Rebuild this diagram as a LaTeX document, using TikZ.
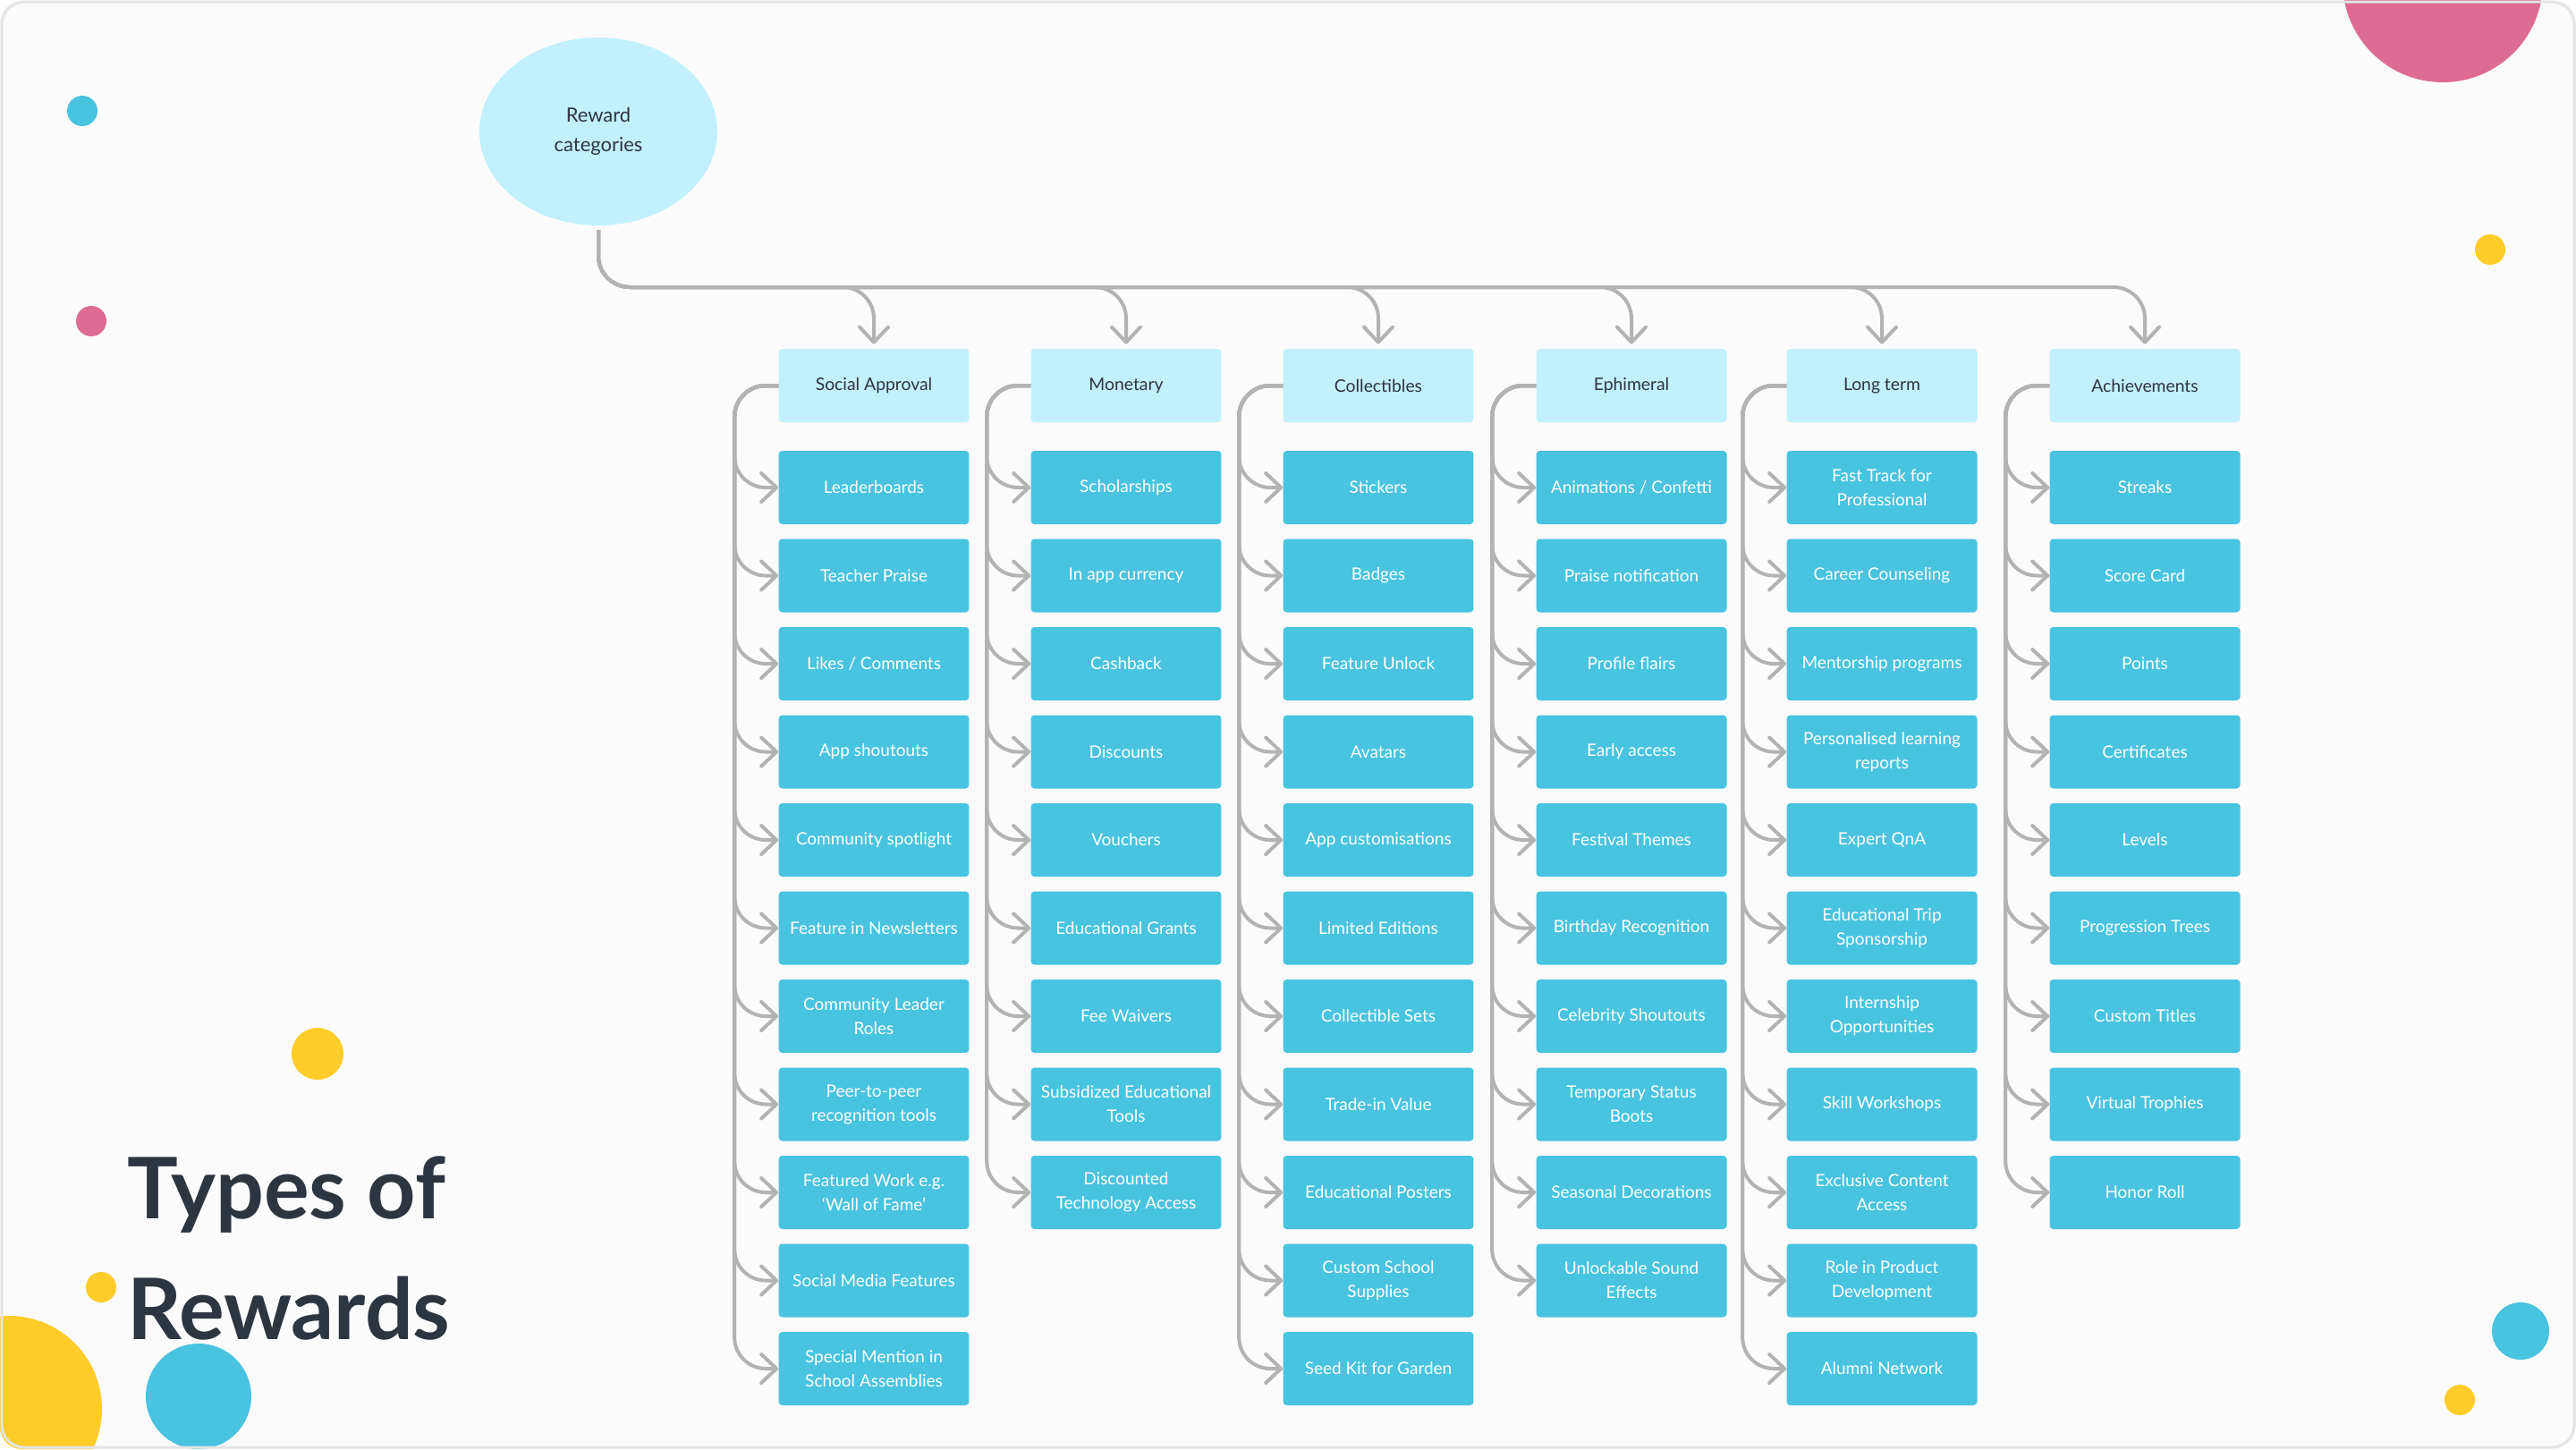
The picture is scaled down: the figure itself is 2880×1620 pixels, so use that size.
\documentclass[tikz,border=0pt]{standalone}
\usepackage{fontspec}
\setmainfont{Lato}
\usepackage{tikz}
\usetikzlibrary{arrows.meta,positioning,shapes.geometric}
\definecolor{rwpaper}{HTML}{FBFBFB}
\definecolor{rwedge}{HTML}{E4E4E4}
\definecolor{rwpale}{HTML}{C2F0FC}
\definecolor{rwcyan}{HTML}{48C3E0}
\definecolor{rwgray}{HTML}{B3B3B3}
\definecolor{rwink}{HTML}{2D3540}
\definecolor{rwpink}{HTML}{DD6B93}
\definecolor{rwyellow}{HTML}{FFCC29}

\begin{document}
\begin{tikzpicture}[
  x=0.02cm,y=-0.02cm,
  every node/.style={align=center,inner sep=0pt},
  cat/.style={ellipse,fill=rwpale,minimum width=5.32cm,minimum height=4.2cm,text=rwink,font=\fontsize{12.5}{18.8}\selectfont},
  head/.style={fill=rwpale,rounded corners=0.08cm,minimum width=4.26cm,minimum height=1.64cm,text=rwink,font=\fontsize{11}{15}\selectfont},
  item/.style={fill=rwcyan,rounded corners=0.08cm,minimum width=4.26cm,minimum height=1.64cm,text=white,font=\fontsize{10.8}{15.3}\selectfont},
  branch/.style={-{Straight Barb[length=0.34cm,width=0.64cm,round]},line width=0.08cm,draw=rwgray,rounded corners=0.7cm},
  heading/.style={anchor=base west,text=rwink,font=\fontsize{54}{62}\selectfont\bfseries},
  dot/.style={fill=#1}
]
\useasboundingbox (0,0) rectangle (2880,1620);
% page and decoration
\fill[rwpaper,rounded corners=0.5cm] (0,0) rectangle (2880,1620);
\begin{scope}
\clip[rounded corners=0.5cm] (0,0) rectangle (2880,1620);
\fill[dot=rwcyan] (92,124) circle (0.34cm);
\fill[dot=rwpink] (102,359) circle (0.34cm);
\fill[dot=rwyellow] (355,1178) circle (0.58cm);
\fill[dot=rwyellow] (113,1439) circle (0.34cm);
\fill[dot=rwyellow] (10,1575) circle (2.08cm);
\fill[dot=rwcyan] (222,1561) circle (1.18cm);
\fill[dot=rwpink] (2731,-20) circle (2.24cm);
\fill[dot=rwyellow] (2784,279) circle (0.34cm);
\fill[dot=rwcyan] (2818,1488) circle (0.64cm);
\fill[dot=rwyellow] (2750,1565) circle (0.34cm);
\end{scope}
\draw[rwedge,line width=0.06cm,rounded corners=0.5cm] (2,2) rectangle (2878,1618);

\node[heading] (title-a) at (142,1362) {Types of};
\node[heading] (title-b) at (142,1497) {Rewards};

\node[cat] (cat) at (669,147) {Reward\\categories};
\coordinate (bus) at (669,321);

% Social Approval
\node[head] (social) at (977,431) {Social Approval};
\foreach \txt [count=\i] in {Leaderboards, Teacher Praise, {Likes / Comments}, App shoutouts, Community spotlight, Feature in Newsletters, {Community Leader\\Roles}, {Peer-to-peer\\recognition tools}, {Featured Work e.g.\\‘Wall of Fame’}, Social Media Features, {Special Mention in\\School Assemblies}}{
  \node[item] (social-\i) at (977,{545+98.5*(\i-1)}) {\txt};
  \draw[branch] (social.west) -- ++(-49,0) |- (social-\i.west);
}

% Monetary
\node[head] (money) at (1259,431) {Monetary};
\foreach \txt [count=\i] in {Scholarships, In app currency, Cashback, Discounts, Vouchers, Educational Grants, Fee Waivers, {Subsidized Educational\\Tools}, {Discounted\\Technology Access}}{
  \node[item] (money-\i) at (1259,{545+98.5*(\i-1)}) {\txt};
  \draw[branch] (money.west) -- ++(-49,0) |- (money-\i.west);
}

% Collectibles
\node[head] (collect) at (1541,431) {Collectibles};
\foreach \txt [count=\i] in {Stickers, Badges, Feature Unlock, Avatars, App customisations, Limited Editions, Collectible Sets, Trade-in Value, Educational Posters, {Custom School\\Supplies}, Seed Kit for Garden}{
  \node[item] (collect-\i) at (1541,{545+98.5*(\i-1)}) {\txt};
  \draw[branch] (collect.west) -- ++(-49,0) |- (collect-\i.west);
}

% Ephimeral
\node[head] (ephem) at (1824,431) {Ephimeral};
\foreach \txt [count=\i] in {{Animations / Confetti}, Praise notification, Profile flairs, Early access, Festival Themes, Birthday Recognition, Celebrity Shoutouts, {Temporary Status\\Boots}, Seasonal Decorations, {Unlockable Sound\\Effects}}{
  \node[item] (ephem-\i) at (1824,{545+98.5*(\i-1)}) {\txt};
  \draw[branch] (ephem.west) -- ++(-49,0) |- (ephem-\i.west);
}

% Long term
\node[head] (longterm) at (2104,431) {Long term};
\foreach \txt [count=\i] in {{Fast Track for\\Professional}, Career Counseling, Mentorship programs, {Personalised learning\\reports}, Expert QnA, {Educational Trip\\Sponsorship}, {Internship\\Opportunities}, Skill Workshops, {Exclusive Content\\Access}, {Role in Product\\Development}, Alumni Network}{
  \node[item] (longterm-\i) at (2104,{545+98.5*(\i-1)}) {\txt};
  \draw[branch] (longterm.west) -- ++(-49,0) |- (longterm-\i.west);
}

% Achievements
\node[head] (achieve) at (2398,431) {Achievements};
\foreach \txt [count=\i] in {Streaks, Score Card, Points, Certificates, Levels, Progression Trees, Custom Titles, Virtual Trophies, Honor Roll}{
  \node[item] (achieve-\i) at (2398,{545+98.5*(\i-1)}) {\txt};
  \draw[branch] (achieve.west) -- ++(-49,0) |- (achieve-\i.west);
}

% category feeds
\foreach \hd in {social,money,collect,ephem,longterm,achieve}
  \draw[branch,shorten <=0.1cm,shorten >=0.1cm] (cat.south) |- (\hd.north |- bus) -- (\hd.north);
\end{tikzpicture}
\end{document}
